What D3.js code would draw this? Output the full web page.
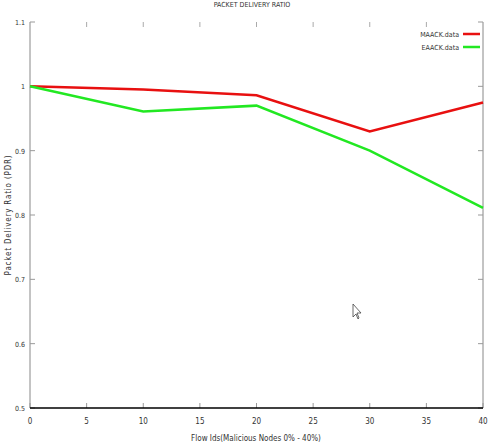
<!DOCTYPE html>
<html>
<head>
<meta charset="utf-8">
<script src="https://cdn.jsdelivr.net/npm/d3@7"></script>
<style>
  body { margin: 0; background: #fff; }
  text { font-family: "DejaVu Sans Condensed", "DejaVu Sans", sans-serif; fill: #333; }
</style>
</head>
<body>
<div id="chart"></div>
<script>
// data
const flowIds = [0, 10, 20, 30, 40];
const maackPdr = [1.0, 0.995, 0.986, 0.930, 0.975];
const eaackPdr = [1.0, 0.961, 0.970, 0.900, 0.811];
const xTicks = [0, 5, 10, 15, 20, 25, 30, 35, 40];
const yTicks = [0.5, 0.6, 0.7, 0.8, 0.9, 1, 1.1];
const seriesNames = ["MAACK.data", "EAACK.data"];

const width = 490, height = 448;
const margin = { top: 22, right: 7, bottom: 40, left: 30 };

const svg = d3.select("#chart").append("svg")
    .attr("width", width)
    .attr("height", height);

const x = d3.scaleLinear().domain([0, 40]).range([margin.left, width - margin.right]);
const y = d3.scaleLinear().domain([0.5, 1.1]).range([height - margin.bottom, margin.top]);

// frame: left gray, bottom black, right gray, no top line
svg.append("line").attr("x1", x(0)).attr("x2", x(0)).attr("y1", y(1.1)).attr("y2", y(0.5))
    .attr("stroke", "#888").attr("stroke-width", 1);
svg.append("line").attr("x1", x(40)).attr("x2", x(40)).attr("y1", y(1.1)).attr("y2", y(0.5))
    .attr("stroke", "#888").attr("stroke-width", 1);

// ticks
const tickLen = 5;
svg.append("g").selectAll("line.xb").data(xTicks).enter().append("line")
    .attr("x1", d => x(d)).attr("x2", d => x(d))
    .attr("y1", y(0.5)).attr("y2", y(0.5) - tickLen)
    .attr("stroke", "#999");
svg.append("g").selectAll("line.xt").data(xTicks.slice(1, -1)).enter().append("line")
    .attr("x1", d => x(d)).attr("x2", d => x(d))
    .attr("y1", y(1.1)).attr("y2", y(1.1) + tickLen)
    .attr("stroke", "#aaa");
svg.append("g").selectAll("line.yl").data(yTicks).enter().append("line")
    .attr("x1", x(0)).attr("x2", x(0) + tickLen)
    .attr("y1", d => y(d)).attr("y2", d => y(d))
    .attr("stroke", "#999");
svg.append("g").selectAll("line.yr").data(yTicks).enter().append("line")
    .attr("x1", x(40)).attr("x2", x(40) - tickLen)
    .attr("y1", d => y(d)).attr("y2", d => y(d))
    .attr("stroke", "#999");

svg.append("line").attr("x1", x(0)).attr("x2", x(40)).attr("y1", y(0.5)).attr("y2", y(0.5))
    .attr("stroke", "#000").attr("stroke-width", 1.5);

// tick labels
svg.append("g").selectAll("text").data(xTicks).enter().append("text")
    .attr("x", d => x(d)).attr("y", y(0.5) + 16)
    .attr("text-anchor", "middle")
    .attr("font-size", 8)
    .text(d => d);
svg.append("g").selectAll("text").data(yTicks).enter().append("text")
    .attr("x", x(0) - 5).attr("y", d => y(d) + 3)
    .attr("text-anchor", "end")
    .attr("font-size", 7)
    .text(d => d);

// titles
svg.append("text").attr("x", 252).attr("y", 7)
    .attr("text-anchor", "middle").attr("font-size", 7)
    .text("PACKET DELIVERY RATIO");
svg.append("text").attr("x", 256).attr("y", 441)
    .attr("text-anchor", "middle").attr("font-size", 8)
    .text("Flow Ids(Malicious Nodes 0% - 40%)");
svg.append("text")
    .attr("transform", "translate(11," + y(0.8) + ") rotate(-90)")
    .attr("text-anchor", "middle").attr("font-size", 8)
    .attr("letter-spacing", 0.8)
    .text("Packet Delivery Ratio (PDR)");

// lines
const colors = ["#e81010", "#22e822"];
const series = [maackPdr, eaackPdr];
const line = d3.line().x((d, i) => x(flowIds[i])).y(d => y(d));
series.forEach((s, k) => {
    svg.append("path").datum(s)
        .attr("fill", "none")
        .attr("stroke", colors[k])
        .attr("stroke-width", 2.5)
        .attr("d", line);
});

// legend
seriesNames.forEach((n, k) => {
    const ly = 34 + k * 13;
    svg.append("text").attr("x", 459).attr("y", ly + 2.5)
        .attr("text-anchor", "end").attr("font-size", 7)
        .text(n);
    svg.append("line").attr("x1", 463).attr("x2", 480)
        .attr("y1", ly).attr("y2", ly)
        .attr("stroke", colors[k]).attr("stroke-width", 2.5);
});

// mouse pointer left in the screenshot
svg.append("path")
    .attr("d", "M353,304 L353,317 L356,314 L358,319 L359,318 L357,313 L361,313 Z")
    .attr("fill", "#fff").attr("stroke", "#444").attr("stroke-width", 0.8);
</script>
</body>
</html>
